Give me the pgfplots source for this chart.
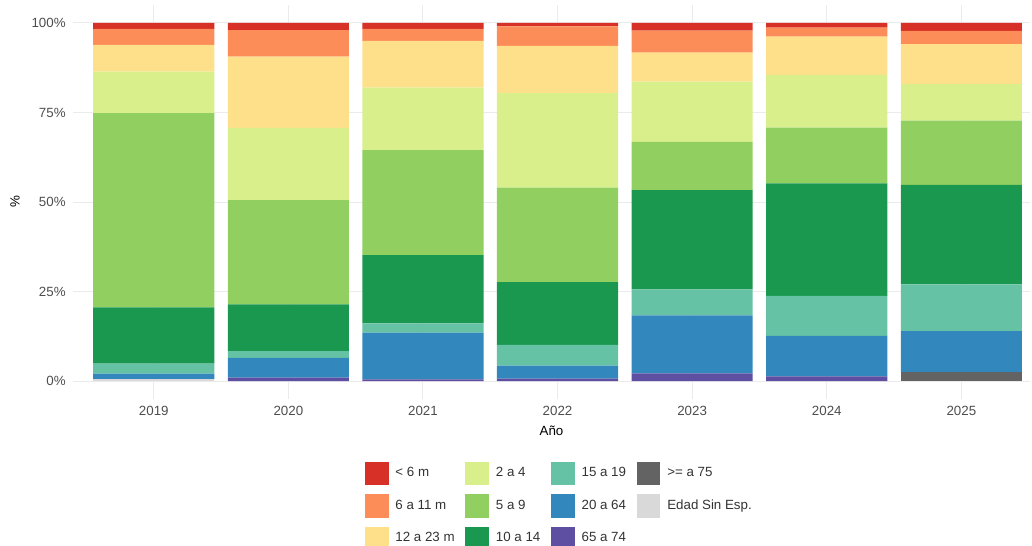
\documentclass[border=0pt]{standalone}
\usepackage{pgfplots}
\pgfplotsset{compat=1.18}
\usepackage{pgfplotstable}
\usepackage{fontspec}
\setmainfont{Liberation Sans}
\definecolor{c1}{HTML}{D73027}
\definecolor{c2}{HTML}{FC8D59}
\definecolor{c3}{HTML}{FEE08B}
\definecolor{c4}{HTML}{D9EF8B}
\definecolor{c5}{HTML}{91CF60}
\definecolor{c6}{HTML}{1A9850}
\definecolor{c7}{HTML}{66C2A5}
\definecolor{c8}{HTML}{3288BD}
\definecolor{c9}{HTML}{5E4FA2}
\definecolor{c10}{HTML}{636363}
\definecolor{c11}{HTML}{D9D9D9}
\definecolor{gridgray}{HTML}{EBEBEB}
\definecolor{tickgray}{HTML}{4D4D4D}
\definecolor{leggray}{HTML}{333333}

\pgfplotstableread{
x lt6 m611 m1223 a24 a59 a1014 a1519 a2064 a6574 a75 sin
1 1.7  4.4  7.5  11.6  54.2  15.7  2.8   1.6   0.0  0.0 0.5
2 2.0  7.4  19.9 20.2  29.1  13.0  1.9   5.5   1.0  0.0 0.0
3 1.7  3.3  13.1 17.4  29.3  19.1  2.6   13.0  0.5  0.0 0.0
4 1.0  5.4  13.2 26.4  26.4  17.5  5.8   3.6   0.7  0.0 0.0
5 2.15 6.15 8.1  16.8  13.45 27.75 7.25  16.2  2.15 0.0 0.0
6 1.3  2.5  10.7 14.75 15.55 31.4  11.15 11.35 1.3  0.0 0.0
7 2.2  3.7  11.2 10.2  17.95 27.75 13.05 11.35 0.0  2.6 0.0
}\data

\pgfplotsset{sw/.style={legend image code/.code={\fill[#1] (0pt,-8.5pt) rectangle (17pt,8.5pt);}}}

\begin{document}
\begin{tikzpicture}
\begin{axis}[
  scale only axis,
  width=717.75pt, height=295.5pt,
  xmin=0.4, xmax=7.51, ymin=-5, ymax=105,
  ybar stacked, bar width=0.9,
  xtick={1,2,3,4,5,6,7},
  xticklabels={2019,2020,2021,2022,2023,2024,2025},
  ytick={0,25,50,75,100},
  yticklabels={0\%,25\%,50\%,75\%,100\%},
  major tick length=0pt,
  xmajorgrids, ymajorgrids,
  major grid style={draw=gridgray, line width=0.7pt},
  axis line style={draw=none},
  tick label style={font=\fontsize{10}{12}\selectfont, text=tickgray},
  xticklabel style={yshift=-1.5pt},
  yticklabel style={xshift=-2pt},
  xlabel={Año}, ylabel={\%},
  label style={font=\fontsize{11}{13}\selectfont, text=black},
  every axis x label/.style={at={(axis description cs:0.5,0)}, anchor=center, yshift=-23.5pt},
  every axis y label/.style={at={(axis description cs:0,0.5)}, anchor=center, rotate=90, yshift=43.5pt},
  legend columns=4,
  legend style={
    legend cell align=left, draw=none, fill=none, inner sep=0pt, outer sep=0pt,
    font=\fontsize{10}{12}\selectfont, text=leggray,
    at={(0.305,-0.159)}, anchor=north west,
    row sep=7pt,
    /tikz/every odd column/.append style={column sep=3.5pt},
    /tikz/every even column/.append style={column sep=6pt},
  },
]
\addlegendimage{sw=c1}\addlegendentry{< 6 m}
\addlegendimage{sw=c4}\addlegendentry{2 a 4}
\addlegendimage{sw=c7}\addlegendentry{15 a 19}
\addlegendimage{sw=c10}\addlegendentry{>= a 75}
\addlegendimage{sw=c2}\addlegendentry{6 a 11 m}
\addlegendimage{sw=c5}\addlegendentry{5 a 9}
\addlegendimage{sw=c8}\addlegendentry{20 a 64}
\addlegendimage{sw=c11}\addlegendentry{Edad Sin Esp.}
\addlegendimage{sw=c3}\addlegendentry{12 a 23 m}
\addlegendimage{sw=c6}\addlegendentry{10 a 14}
\addlegendimage{sw=c9}\addlegendentry{65 a 74}

\addplot[forget plot, fill=c11, draw=none] table[x=x, y=sin] {\data};
\addplot[forget plot, fill=c10, draw=none] table[x=x, y=a75] {\data};
\addplot[forget plot, fill=c9, draw=none] table[x=x, y=a6574] {\data};
\addplot[forget plot, fill=c8, draw=none] table[x=x, y=a2064] {\data};
\addplot[forget plot, fill=c7, draw=none] table[x=x, y=a1519] {\data};
\addplot[forget plot, fill=c6, draw=none] table[x=x, y=a1014] {\data};
\addplot[forget plot, fill=c5, draw=none] table[x=x, y=a59] {\data};
\addplot[forget plot, fill=c4, draw=none] table[x=x, y=a24] {\data};
\addplot[forget plot, fill=c3, draw=none] table[x=x, y=m1223] {\data};
\addplot[forget plot, fill=c2, draw=none] table[x=x, y=m611] {\data};
\addplot[forget plot, fill=c1, draw=none] table[x=x, y=lt6] {\data};
\end{axis}
\pgfresetboundingbox
\path ([xshift=-54.75pt,yshift=-110.25pt]current axis.south west) rectangle ([xshift=1.5pt,yshift=3.75pt]current axis.north east);
\end{tikzpicture}
\end{document}
